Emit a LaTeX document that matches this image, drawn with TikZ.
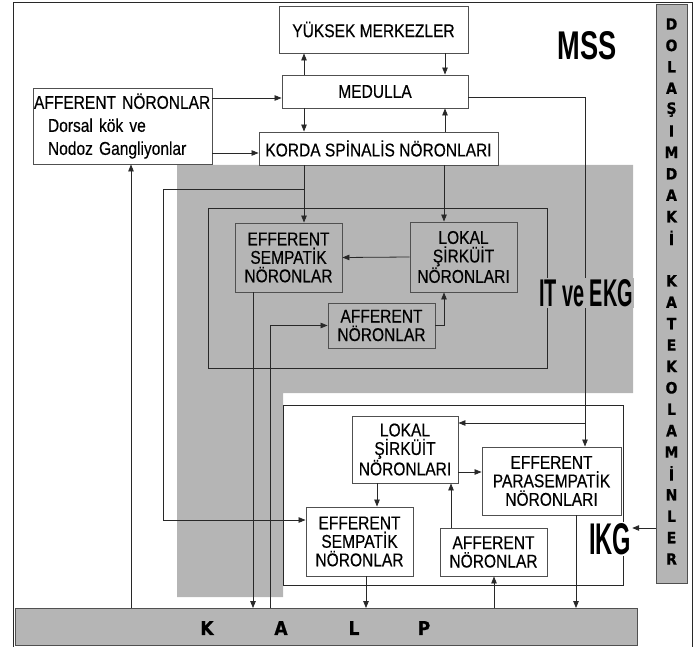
\documentclass[tikz,border=0pt]{standalone}
\usepackage{fontspec}
\usepackage{graphicx}
\setmainfont{Liberation Sans}
\newfontfamily\narrowfont{Liberation Sans}[FakeStretch=0.84,FakeBold=0.35]
\newfontfamily\heavyfont{DejaVu Sans}[FakeStretch=0.9,FakeBold=0.8]
\usetikzlibrary{arrows.meta}
\definecolor{NSGray}{RGB}{181,181,181}
\definecolor{NSInk}{RGB}{40,40,40}
\definecolor{NSEdge}{RGB}{80,80,80}

\begin{document}
\begin{tikzpicture}[x=1pt,y=-1pt,
    box/.style={draw=NSEdge,fill=white,line width=0.9pt,inner sep=1pt,
      align=center,font={\narrowfont\fontsize{18.5}{18.5}\selectfont}},
    graybox/.style={box,fill=NSGray},
    arr/.style={draw=NSInk,line width=0.8pt,
      -{Triangle[length=7pt,width=5.5pt]}},
    link/.style={draw=NSInk,line width=0.8pt},
    tag/.style={inner sep=1pt,font=\bfseries},
    letter/.style={inner sep=0pt,font={\heavyfont\bfseries\fontsize{15.5}{15.5}\selectfont}}
  ]
  \useasboundingbox (0,0) rectangle (695,647);
  % outer frame
  \draw[NSInk,line width=0.9pt] (13,647) -- (13,2) -- (692,2) -- (692,647);

  % gray region of the intrathoracic block
  \fill[NSGray] (177,165) -- (633,165) -- (633,393) -- (283,393)
    -- (283,597) -- (177,597) -- cycle;
  \draw[link] (208,208) rectangle (547,368);
  \draw[link] (283,405) rectangle (623,585);

  % central nervous system
  \node[box,minimum width=189pt,minimum height=47pt] (yuksek) at (373.5,29.5)
    {YÜKSEK MERKEZLER};
  \node[box,minimum width=186pt,minimum height=33pt] (medulla) at (375,91.5)
    {MEDULLA};
  \node[box,minimum width=239pt,minimum height=33pt] (korda) at (378.5,148.5)
    {KORDA SPİNALİS NÖRONLARI};
  \node[box,minimum width=179pt,minimum height=76pt,align=left,
    text width=177pt] (affmss) at (122.5,126)
    {AFFERENT NÖRONLAR\\[4.5pt]
     \hspace*{14pt}Dorsal kök ve\\[4.5pt]
     \hspace*{14pt}Nodoz Gangliyonlar};

  % intrathoracic ganglia
  \node[graybox,minimum width=107pt,minimum height=69pt] (effit) at (288.5,257.5)
    {EFFERENT\\SEMPATİK\\NÖRONLAR};
  \node[graybox,minimum width=107pt,minimum height=70pt] (lokit) at (463.5,257)
    {LOKAL\\ŞİRKÜİT\\NÖRONLARI};
  \node[graybox,minimum width=107pt,minimum height=45pt] (affit) at (381.5,325.5)
    {AFFERENT\\NÖRONLAR};

  % intrinsic cardiac ganglia
  \node[box,minimum width=106pt,minimum height=67pt] (lokikg) at (405,449.5)
    {LOKAL\\ŞİRKÜİT\\NÖRONLARI};
  \node[box,minimum width=139pt,minimum height=68pt] (para) at (551.5,481)
    {EFFERENT\\PARASEMPATİK\\NÖRONLARI};
  \node[box,minimum width=107pt,minimum height=69pt] (effikg) at (359.5,541.5)
    {EFFERENT\\SEMPATİK\\NÖRONLAR};
  \node[box,minimum width=107pt,minimum height=48pt] (affikg) at (493.5,552)
    {AFFERENT\\NÖRONLAR};

  % heart and circulating catecholamines
  \node[draw=NSEdge,fill=NSGray,line width=0.9pt,minimum width=622pt,
    minimum height=37pt] (kalp) at (326.5,627) {};
  \foreach \x/\ch [count=\i] in {207/K,281/A,354/L,424/P}
    \node[letter,font={\heavyfont\bfseries\fontsize{19}{19}\selectfont}] (k\i)
      at (\x,628) {\ch};
  \node[draw=NSEdge,fill=NSGray,line width=0.9pt,minimum width=31pt,
    minimum height=579pt] (dolasim) at (671.5,293.5) {};
  \foreach \ch [count=\i] in {D,O,L,A,Ş,I,M,D,A,K,İ,{},K,A,T,E,K,O,L,A,M,İ,N,L,E,R}
    \node[letter] (d\i) at (671.5,{24+21.4*(\i-1)}) {\ch};

  % connectors, top
  \draw[arr] (304,0 |- medulla.north) -- (304,0 |- yuksek.south);
  \draw[arr] (445,0 |- yuksek.south) -- (445,0 |- medulla.north);
  \draw[arr] (304,0 |- medulla.south) -- (304,0 |- korda.north);
  \draw[arr] (445,0 |- korda.north) -- (445,0 |- medulla.south);
  \draw[arr] (affmss.east |- 0,98) -- (medulla.west |- 0,98);
  \draw[arr] (affmss.east |- 0,153) -- (korda.west |- 0,153);
  \draw[arr] (131,0 |- kalp.north) -- (131,0 |- affmss.south);

  % connectors, intrathoracic
  \draw[arr] (304,0 |- korda.south) -- (304,0 |- effit.north);
  \draw[arr] (304,189) -- (163,189) -- (163,520) -- (effikg.west |- 0,520);
  \draw[arr] (444,0 |- korda.south) -- (444,0 |- lokit.north);
  \draw[arr] (lokit.west) -- (effit.east);
  \draw[arr] (affit.east) -| (444,0 |- lokit.south);
  \draw[arr] (270,0 |- kalp.north) |- (affit.west);
  \draw[arr] (253,0 |- effit.south) -- (253,0 |- kalp.north);

  % connectors, intrinsic cardiac
  \draw[arr] (medulla.east |- 0,97) -| (585,0 |- para.north);
  \draw[arr] (585,423) -- (lokikg.east |- 0,423);
  \draw[arr] (377,0 |- lokikg.south) -- (377,0 |- effikg.north);
  \draw[arr] (lokikg.east |- 0,472) -- (para.west |- 0,472);
  \draw[arr] (451,0 |- affikg.north) -- (451,0 |- lokikg.south);
  \draw[arr] (366,0 |- effikg.south) -- (366,0 |- kalp.north);
  \draw[arr] (494,0 |- kalp.north) -- (494,0 |- affikg.south);
  \draw[arr] (576,0 |- para.south) -- (576,0 |- kalp.north);

  % block labels
  \node[tag] (mss) at (587,46) {\resizebox{59pt}{28pt}{MSS}};
  \node[tag,fill=NSGray] (itekg) at (586,293) {\resizebox{94pt}{27pt}{IT ve EKG}};
  \node[tag,fill=white] (ikg) at (610,539) {\resizebox{42pt}{31pt}{IKG}};
  \draw[arr] (dolasim.west |- 0,528) -- (ikg.east |- 0,528);
\end{tikzpicture}
\end{document}
